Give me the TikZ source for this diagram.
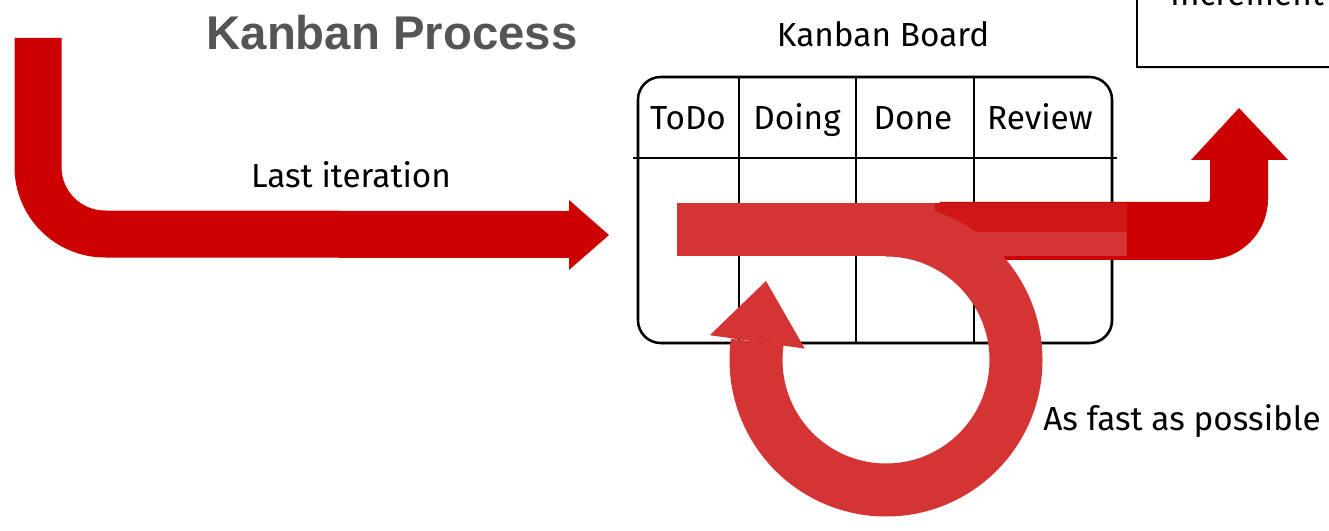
\documentclass[tikz,border=0pt]{standalone}
\usepackage{fontspec}
\usetikzlibrary{shadows}
\newfontfamily\labfont{Fira Sans}
\newfontfamily\ttlfont{Liberation Sans}
\definecolor{arrowred}{RGB}{204,0,0}
\definecolor{looprred}{RGB}{212,52,52}
\definecolor{titlegray}{RGB}{85,85,85}
\tikzset{
  lab/.style={font=\labfont\fontsize{25}{29}\selectfont, text=black, inner sep=0pt},
  gridline/.style={line width=1.9pt, black},
  board/.style={line width=1.9pt, black, fill=white, rounded corners=17pt,
     drop shadow={opacity=0.25, shadow xshift=1.2pt, shadow yshift=-1.2pt}},
  bigarrow/.style={line width=35.25pt, arrowred},
  rightarrow/.style={line width=43.5pt, arrowred},
  loopband/.style={line width=39.75pt, looprred},
}
\begin{document}
\begin{tikzpicture}[x=0.75pt,y=-0.75pt]
\useasboundingbox (0,0) rectangle (1329,531);
\clip (0,0) rectangle (1329,531);
\fill[white] (0,0) rectangle (1329,531);

% increment box
\draw[board, rounded corners=0pt] (1137,-30) rectangle (1360,67);
\node[lab, anchor=base] (inc) at (1247,6) {Increment};

% title and labels
\node[font=\ttlfont\bfseries\fontsize{35.5}{40}\selectfont, text=titlegray, inner sep=0pt] (title) at (392,33) {Kanban Process};
\node[lab, anchor=base] (boardlabel) at (883,47) {Kanban Board};
\node[lab, anchor=base] (last) at (351,188) {Last iteration};
\node[lab, anchor=base] (fast) at (1182,430) {As fast as possible};

% board
\draw[board] (638,77) rectangle (1112,343);
\draw[gridline] (633,158) -- (1117,158);
\foreach \xx in {739,856,974} \draw[gridline] (\xx,77) -- (\xx,343);
\node[lab, anchor=base] (todo) at (688,130) {ToDo};
\node[lab, anchor=base] (doing) at (797,130) {Doing};
\node[lab, anchor=base] (done) at (913,130) {Done};
\node[lab, anchor=base] (review) at (1040,130) {Review};

% left arrow
\draw[bigarrow] (38,38) -- (38,167) arc[start angle=180, end angle=90, radius=67] -- (572,234.5);
\fill[arrowred] (569,200) -- (609,235) -- (569,270) -- cycle;

% right arrow
\draw[rightarrow] (940,231) -- (1207,231) arc[start angle=90, end angle=0, radius=32] -- (1239,158);
\fill[arrowred] (1191,160) -- (1239,108) -- (1288,160) -- cycle;

% loop
\draw[loopband] (677,230) -- (1127,230);
\fill[arrowred, fill opacity=0.55] (935,203.5) rectangle (1127,232);
\draw[loopband] (886,230) arc[start angle=-90, end angle=188, radius=130];
\fill[looprred] (709.8,335.2) -- (766,281) -- (804.8,348.6) -- cycle;
\end{tikzpicture}
\end{document}
